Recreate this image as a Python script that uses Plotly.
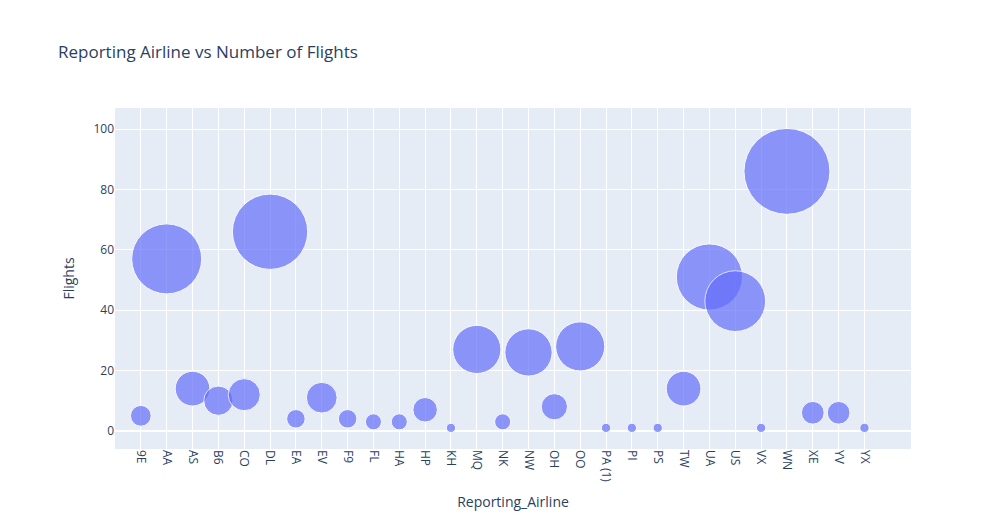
import plotly.graph_objects as go

airlines = ['9E', 'AA', 'AS', 'B6', 'CO', 'DL', 'EA', 'EV', 'F9', 'FL', 'HA', 'HP', 'KH',
            'MQ', 'NK', 'NW', 'OH', 'OO', 'PA (1)', 'PI', 'PS', 'TW', 'UA', 'US', 'VX',
            'WN', 'XE', 'YV', 'YX']
flights = [5, 57, 14, 10, 12, 66, 4, 11, 4, 3, 3, 7, 1,
           27, 3, 26, 8, 28, 1, 1, 1, 14, 51, 43, 1,
           86, 6, 6, 1]

fig = go.Figure(go.Scatter(
    x=airlines, y=flights, mode='markers',
    marker=dict(size=flights, sizemode='area', sizeref=2 * max(flights) / 86 ** 2,
                color='#636efa', opacity=0.7, line=dict(color='white', width=1)),
))
fig.update_layout(
    font=dict(family='Open Sans'),
    title=dict(text='Reporting Airline vs Number of Flights', x=50 / 983),
    width=983, height=525,
    margin=dict(l=107, r=80, t=100, b=84, autoexpand=False),
    xaxis=dict(title='Reporting_Airline', tickangle=90, range=[-1.0, 29.8]),
    yaxis=dict(title='Flights', range=[-6, 107]),
)
fig.write_html("out.html")
